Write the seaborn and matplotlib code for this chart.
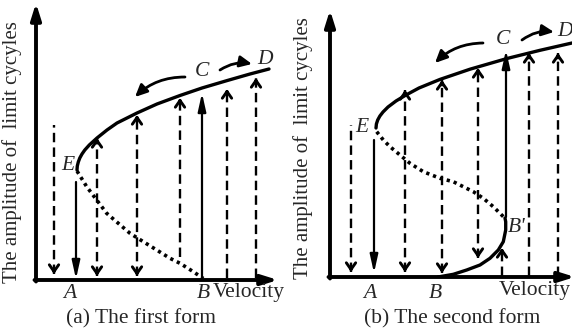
import matplotlib
matplotlib.use("Agg")
import matplotlib.pyplot as plt
import numpy as np
import seaborn as sns

sns.set_theme(style="white")
plt.rcParams['font.family'] = ['Liberation Serif', 'DejaVu Serif']

# ---- panel (a): the first form  (units ~ pixels from the axes corner) ----
a_stable_x = [41, 41.3, 42.3, 43.8, 46, 48.8, 53.3, 61, 71, 81, 101, 121, 144, 166, 191, 214, 233]
a_stable_y = [110, 114, 118, 122, 126, 130, 135, 142, 150, 157, 167, 176, 184.5, 192, 199.4, 206, 211]
a_unstable_x = [41, 50.7, 60.7, 70.7, 82.3, 94, 107.3, 120.7, 134, 144, 157.3, 167.3]
a_unstable_y = [109, 93.3, 80, 66.7, 56.7, 46.7, 38.3, 30, 21.7, 16.7, 8.3, 1.5]
# vertical arrows: x, low end, high end, direction, line style
a_arr_x = [18, 40, 61, 101, 144, 166, 191, 220]
a_arr_lo = [6, 1, 4, 4, 23, 2, 2, 2]
a_arr_hi = [155, 98, 142, 165, 182, 187, 191, 202]
a_arr_dir = ['down', 'down', 'both', 'both', 'up', 'up', 'up', 'up']
a_arr_ls = ['--', '-', '--', '--', '--', '-', '--', '--']

# ---- panel (b): the second form ----
b_stable_x = [46, 46.4, 47.7, 49.9, 53, 58, 66, 76, 89, 110, 140, 177, 210, 242]
b_stable_y = [149, 153, 157, 161, 165, 170, 176, 182, 189, 197.6, 207.8, 218.5, 226.7, 234]
b_unstable_x = [46.7, 53.3, 60, 70, 80, 93.3, 110, 123.3, 133.3, 143.3, 153.3, 163.3, 175]
b_unstable_y = [145.3, 137, 130.3, 122, 113.7, 105.3, 98.7, 95.3, 90.3, 85.3, 78.7, 70.3, 58.7]
b_low_x = [108, 123.3, 136.7, 150, 160, 168.3, 173.3, 175.7, 175.7, 175]
b_low_y = [0, 2.7, 7, 12, 18.7, 27, 35.3, 47, 55.3, 59]
b_arr_x = [21, 44, 75, 112, 148, 176, 172, 199, 228]
b_arr_lo = [5, 4, 5, 4, 19, 60, 1, 1, 1]
b_arr_hi = [152, 137, 187, 197, 209, 227, 29, 224, 224]
b_arr_dir = ['down', 'down', 'both', 'both', 'both', 'up', 'up', 'up', 'up']
b_arr_ls = ['--', '-', '--', '--', '--', '-', '--', '--', '--']

ylabel = "The amplitude of  limit cycyles"
FS = 15.5

fig = plt.figure(figsize=(5.72, 3.29), dpi=100)
W, H = 572.0, 329.0
axa = fig.add_axes([36 / W, 49 / H, 254 / W, 280 / H])
axa.set_xlim(0, 254)
axa.set_ylim(0, 280)
axb = fig.add_axes([330 / W, 52 / H, 242 / W, 277 / H])
axb.set_xlim(0, 242)
axb.set_ylim(0, 277)


def vert_arrow(ax, x, lo, hi, d, ls):
    if ls == '-':
        start, end = (lo, hi) if d == 'up' else (hi, lo)
        ax.annotate('', xy=(x, end), xytext=(x, start),
                    arrowprops=dict(arrowstyle='-|>,head_length=0.9,head_width=0.2',
                                    lw=1.6, color='black', shrinkA=0, shrinkB=0))
        return
    ax.plot([x, x], [lo, hi], color='black', lw=1.7, linestyle=(0, (4, 2.2)))
    hs = 'head_length=0.4,head_width=0.28'
    if d in ('up', 'both'):
        ax.annotate('', xy=(x, hi), xytext=(x, hi - 5),
                    arrowprops=dict(arrowstyle='->,' + hs, lw=2.1, color='black',
                                    shrinkA=0, shrinkB=0))
    if d in ('down', 'both'):
        ax.annotate('', xy=(x, lo), xytext=(x, lo + 5),
                    arrowprops=dict(arrowstyle='->,' + hs, lw=2.1, color='black',
                                    shrinkA=0, shrinkB=0))


def frame(ax, xmax, ymax):
    ax.set_axis_off()
    ax.annotate('', xy=(xmax, 0), xytext=(-1.5, 0),
                arrowprops=dict(arrowstyle='-|>,head_length=0.8,head_width=0.25',
                                lw=2.8, color='black', shrinkA=0, shrinkB=0),
                annotation_clip=False)
    ax.annotate('', xy=(0, ymax), xytext=(0, -1.5),
                arrowprops=dict(arrowstyle='-|>,head_length=0.8,head_width=0.25',
                                lw=2.8, color='black', shrinkA=0, shrinkB=0),
                annotation_clip=False)


def curve_arrow(ax, start, end, rad):
    ax.annotate('', xy=end, xytext=start,
                arrowprops=dict(arrowstyle='-|>,head_length=0.6,head_width=0.28', lw=2,
                                color='black', shrinkA=0, shrinkB=0,
                                connectionstyle='arc3,rad=%s' % rad))


it = dict(fontsize=FS, style='italic', ha='center', va='center')

# panel (a)
frame(axa, 242, 277)
sns.lineplot(x=a_stable_x, y=a_stable_y, sort=False, estimator=None, ax=axa,
             color='black', lw=2.4)
sns.lineplot(x=a_unstable_x, y=a_unstable_y, sort=False, estimator=None, ax=axa,
             color='black', lw=2.6, linestyle=(0, (0.9, 1.1)))
for x, lo, hi, d, ls in zip(a_arr_x, a_arr_lo, a_arr_hi, a_arr_dir, a_arr_ls):
    vert_arrow(axa, x, lo, hi, d, ls)
curve_arrow(axa, (149, 203), (99, 183), 0.2)
curve_arrow(axa, (184, 210), (216, 216), -0.2)
axa.text(32, 115, 'E', **it)
axa.text(34, -13, 'A', **it)
axa.text(167, -13, 'B', **it)
axa.text(166, 208, 'C', **it)
axa.text(229, 220, 'D', **it)
axa.text(213, -13, 'Velocity', fontsize=FS, ha='center', va='center')
axa.text(105, -38.5, '(a) The first form', fontsize=FS, ha='center', va='center')
axa.text(-24, 128, ylabel, fontsize=15, rotation=90, ha='center', va='center')

# panel (b)
frame(axb, 245, 267)
sns.lineplot(x=b_stable_x, y=b_stable_y, sort=False, estimator=None, ax=axb,
             color='black', lw=2.4)
sns.lineplot(x=b_unstable_x, y=b_unstable_y, sort=False, estimator=None, ax=axb,
             color='black', lw=2.6, linestyle=(0, (0.9, 1.1)))
sns.lineplot(x=b_low_x, y=b_low_y, sort=False, estimator=None, ax=axb,
             color='black', lw=2.4)
for x, lo, hi, d, ls in zip(b_arr_x, b_arr_lo, b_arr_hi, b_arr_dir, b_arr_ls):
    vert_arrow(axb, x, lo, hi, d, ls)
curve_arrow(axb, (153, 234), (105, 214), 0.2)
curve_arrow(axb, (192, 237), (224, 245), -0.2)
axb.text(32, 149, 'E', **it)
axb.text(40, -16, 'A', **it)
axb.text(105, -16, 'B', **it)
axb.text(187, 49, "B'", **it)
axb.text(173, 237, 'C', **it)
axb.text(235, 245, 'D', **it)
axb.text(205, -14, 'Velocity', fontsize=FS, ha='center', va='center')
axb.text(122, -41.5, '(b) The second form', fontsize=FS, ha='center', va='center')
axb.text(-27, 129, ylabel, fontsize=15, rotation=90, ha='center', va='center')

fig.savefig('out.png', dpi=100, facecolor='white')
